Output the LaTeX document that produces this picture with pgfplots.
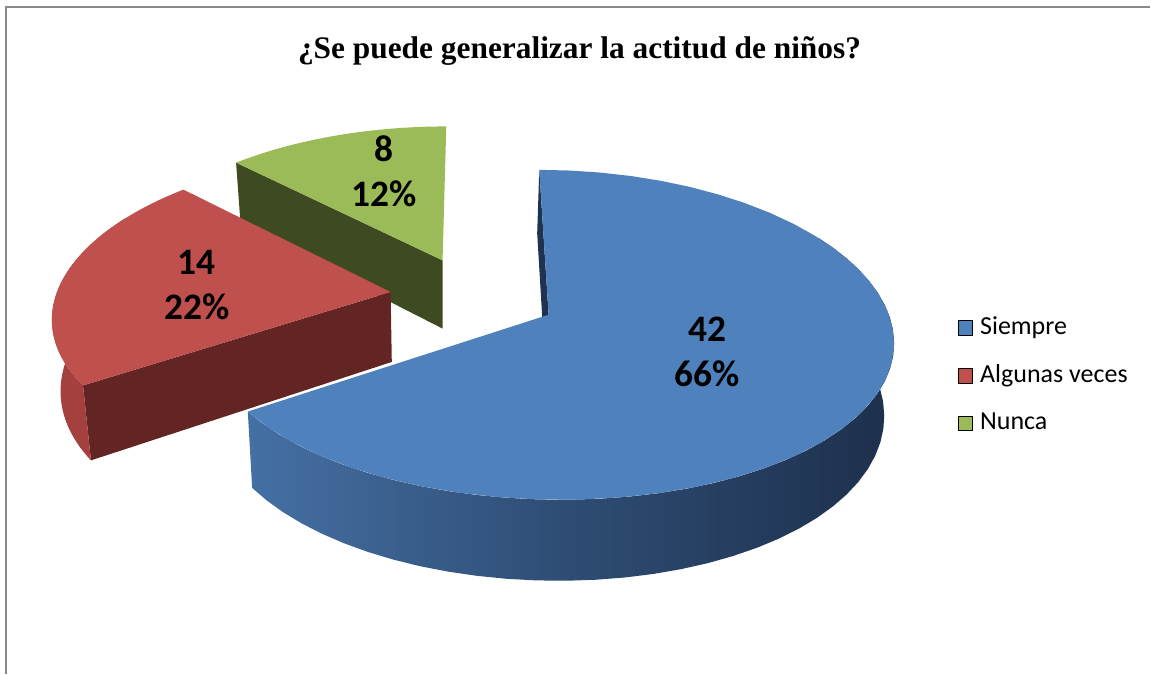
\documentclass[border=0pt]{standalone}
\usepackage{pgfplots}
\pgfplotsset{compat=1.18}
\usepackage{fontspec}
\setmainfont{Carlito}
\newfontfamily\titlefont{Liberation Serif}
\definecolor{cBlue}{HTML}{4F81BD}
\definecolor{cRed}{HTML}{C0504D}
\definecolor{cGreen}{HTML}{9BBB59}
\definecolor{cBlueWallL}{HTML}{4570A4}
\definecolor{cBlueWallM}{HTML}{2E4C73}
\definecolor{cBlueWallR}{HTML}{1D304C}
\definecolor{cBlueDark}{HTML}{1F3350}
\definecolor{cRedDark}{HTML}{632523}
\definecolor{cRedWall}{HTML}{A4403D}
\definecolor{cGreenDark}{HTML}{3E4A22}
\definecolor{cFrame}{HTML}{898989}

% data
\def\vSiempre{42}
\def\vAlgunas{14}
\def\vNunca{8}
\pgfmathsetmacro\vTot{\vSiempre+\vAlgunas+\vNunca}
\pgfmathsetmacro\aS{90}
\pgfmathsetmacro\aSe{90-360*\vSiempre/\vTot}
\pgfmathsetmacro\aAe{\aSe-360*\vAlgunas/\vTot}
\pgfmathsetmacro\aNe{\aAe-360*\vNunca/\vTot}
\pgfmathsetmacro\aRw{\aAe+15}
% explosion offsets
\pgfmathsetmacro\oxS{0.25*cos((\aS+\aSe)/2)}
\pgfmathsetmacro\oyS{0.25*sin((\aS+\aSe)/2)}
\pgfmathsetmacro\oxA{0.25*cos((\aSe+\aAe)/2)}
\pgfmathsetmacro\oyA{0.25*sin((\aSe+\aAe)/2)}
\pgfmathsetmacro\oxN{0.25*cos((\aAe+\aNe)/2)}
\pgfmathsetmacro\oyN{0.25*sin((\aAe+\aNe)/2)}

\pgfplotsset{
  sq legend/.style={legend image code/.code={\fill[##1] (0pt,-3.7pt) rectangle (7.4pt,3.7pt); \path (10.9pt,0pt);}},
}

% top face: color, a1, a2, ox, oy
\newcommand\topface[5]{%
\addplot[forget plot, fill=#1, draw=none, variable=\t, samples at={-1,0,0.025,...,1,1,2}]
({tx((#4)+((\t>=0)&&(\t<=1))*cos((#2)+((#3)-(#2))*max(0,min(1,\t))), (#5)+((\t>=0)&&(\t<=1))*sin((#2)+((#3)-(#2))*max(0,min(1,\t))))},
 {ty((#4)+((\t>=0)&&(\t<=1))*cos((#2)+((#3)-(#2))*max(0,min(1,\t))), (#5)+((\t>=0)&&(\t<=1))*sin((#2)+((#3)-(#2))*max(0,min(1,\t))))});}

% outer wall: options, b1, b2, ox, oy
\newcommand\wallface[5]{%
\addplot[forget plot, draw=none, #1, variable=\t, samples at={0,0.025,...,1,1,2,2.025,...,3,3}]
({(\t<1.5) ? tx((#4)+cos((#2)+((#3)-(#2))*min(\t,1)), (#5)+sin((#2)+((#3)-(#2))*min(\t,1))) : bx((#4)+cos((#3)-((#3)-(#2))*min(\t-2,1)), (#5)+sin((#3)-((#3)-(#2))*min(\t-2,1)))},
 {(\t<1.5) ? ty((#4)+cos((#2)+((#3)-(#2))*min(\t,1)), (#5)+sin((#2)+((#3)-(#2))*min(\t,1))) : by((#4)+cos((#3)-((#3)-(#2))*min(\t-2,1)), (#5)+sin((#3)-((#3)-(#2))*min(\t-2,1)))});}

% radial cut face: color, a, ox, oy
\newcommand\cutface[4]{%
\addplot[forget plot, fill=#1, draw=none, variable=\t, samples at={0,1,2,3}]
({(\t<1.5) ? tx((#3)+((\t>0.5)&&(\t<2.5))*cos(#2), (#4)+((\t>0.5)&&(\t<2.5))*sin(#2)) : bx((#3)+((\t>0.5)&&(\t<2.5))*cos(#2), (#4)+((\t>0.5)&&(\t<2.5))*sin(#2))},
 {(\t<1.5) ? ty((#3)+((\t>0.5)&&(\t<2.5))*cos(#2), (#4)+((\t>0.5)&&(\t<2.5))*sin(#2)) : by((#3)+((\t>0.5)&&(\t<2.5))*cos(#2), (#4)+((\t>0.5)&&(\t<2.5))*sin(#2))});}

\begin{document}
\begin{tikzpicture}[
  declare function={
    tx(\X,\Y)=474+335*(\X)/(1+0.14*(\Y));
    ty(\X,\Y)=296.1-158.1*(\Y)/(1+0.12*(\Y));
    bx(\X,\Y)=445+0.978*(tx(\X,\Y)-445);
    by(\X,\Y)=ty(\X,\Y)+70.2/(1+0.12*(\Y));
  }]
\begin{axis}[
  scale only axis, width=575.5pt, height=337.5pt,
  xmin=0, xmax=1151, ymin=0, ymax=675, y dir=reverse,
  hide axis, clip=false,
  legend cell align=left,
  legend style={at={(axis cs:958,376)}, anchor=west, draw=none, fill=none,
    inner sep=0pt, row sep=12.4pt,
    font=\fontsize{13}{15}\selectfont,
    nodes={inner sep=0pt, text height=9pt, text depth=2.5pt}},
]
\path (rel axis cs:0,0) rectangle (rel axis cs:1,1);
\draw[cFrame, line width=1pt] (axis cs:6,675) -- (axis cs:6,7) -- (axis cs:1151,7);

\addlegendimage{sq legend, fill=cBlue}
\addlegendentry{Siempre}
\addlegendimage{sq legend, fill=cRed}
\addlegendentry{Algunas veces}
\addlegendimage{sq legend, fill=cGreen}
\addlegendentry{Nunca}

% Nunca (green)
\cutface{cGreenDark}{\aAe}{\oxN}{\oyN}
\topface{cGreen}{\aAe}{\aNe}{\oxN}{\oyN}
% Algunas veces (red)
\cutface{cRedDark}{\aSe}{\oxA}{\oyA}
\wallface{fill=cRedWall}{\aRw}{\aSe}{\oxA}{\oyA}
\topface{cRed}{\aSe}{\aAe}{\oxA}{\oyA}
% Siempre (blue)
\cutface{cBlueDark}{\aS}{\oxS}{\oyS}
\wallface{left color=cBlueWallL, right color=cBlueWallR, middle color=cBlueWallM}{\aSe}{30}{\oxS}{\oyS}
\topface{cBlue}{\aS}{\aSe}{\oxS}{\oyS}

\node[anchor=base, inner sep=0pt] at (axis cs:580,59) {\titlefont\bfseries\fontsize{15.7}{18}\selectfont ¿Se puede generalizar la actitud de niños?};

\node[align=center, inner sep=0pt, font=\bfseries\fontsize{18.7}{22.5}\selectfont] at (axis cs:708,352) {42\\66\%};
\node[align=center, inner sep=0pt, font=\bfseries\fontsize{18.7}{22.5}\selectfont] at (axis cs:197,285) {14\\22\%};
\node[align=center, inner sep=0pt, font=\bfseries\fontsize{18.7}{22.5}\selectfont] at (axis cs:384,171) {8\\12\%};
\end{axis}
\end{tikzpicture}
\end{document}
